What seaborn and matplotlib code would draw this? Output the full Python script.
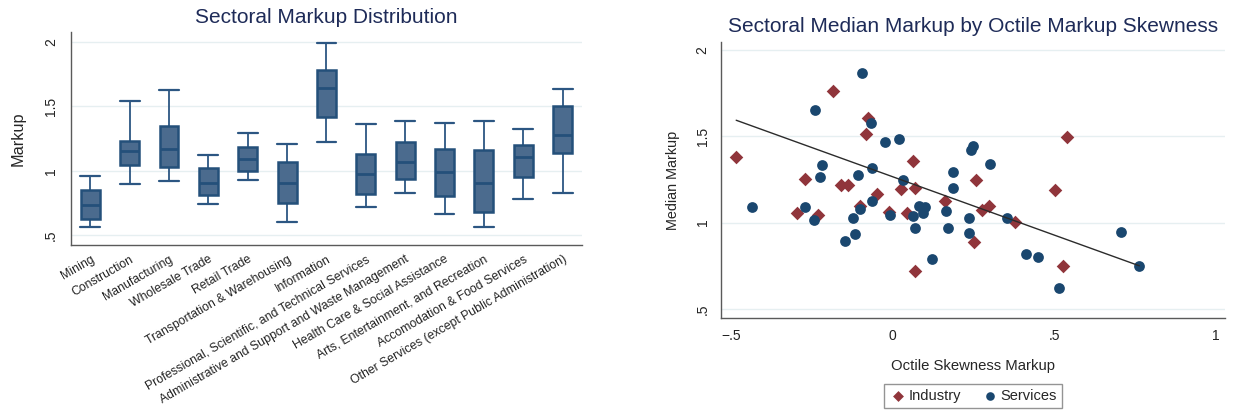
import numpy as np
import pandas as pd
import matplotlib
matplotlib.use("Agg")
import matplotlib.pyplot as plt
import seaborn as sns

# ---------------- data: left panel (five-number summaries) ----------------
sectors = [
    "Mining", "Construction", "Manufacturing", "Wholesale Trade", "Retail Trade",
    "Transportation & Warehousing", "Information",
    "Professional, Scientific, and Technical Services",
    "Administrative and Support and Waste Management",
    "Health Care & Social Assistance", "Arts, Entertainment, and Recreation",
    "Accomodation & Food Services", "Other Services (except Public Administration)",
]
whisker_low = [0.561, 0.897, 0.920, 0.742, 0.930, 0.605, 1.222, 0.719, 0.830, 0.665, 0.564, 0.783, 0.825]
quart_1     = [0.626, 1.044, 1.026, 0.814, 0.995, 0.752, 1.415, 0.819, 0.935, 0.804, 0.680, 0.951, 1.134]
medians     = [0.732, 1.152, 1.170, 0.907, 1.090, 0.907, 1.643, 0.974, 1.070, 0.987, 0.907, 1.108, 1.276]
quart_3     = [0.853, 1.232, 1.348, 1.021, 1.181, 1.070, 1.782, 1.132, 1.219, 1.170, 1.160, 1.201, 1.503]
whisker_high = [0.961, 1.542, 1.627, 1.124, 1.294, 1.209, 1.988, 1.359, 1.385, 1.372, 1.385, 1.325, 1.632]

y_ticks = [0.5, 1.0, 1.5, 2.0]
y_ticklabels = [".5", "1", "1.5", "2"]

# ---------------- data: right panel (scatter) ----------------
industry_skew = [-0.484, -0.184, -0.075, -0.083, -0.272, -0.161, -0.137, -0.049, -0.295, -0.230,
                 -0.101, -0.010, 0.062, 0.025, 0.069, 0.044, 0.069, 0.163,
                 0.540, 0.258, 0.502, 0.276, 0.300, 0.378, 0.251, 0.529]
industry_med = [1.378, 1.760, 1.607, 1.516, 1.254, 1.217, 1.217, 1.163, 1.055, 1.043,
                1.097, 1.064, 1.359, 1.194, 1.198, 1.055, 0.721, 1.126,
                1.497, 1.247, 1.190, 1.072, 1.097, 1.002, 0.888, 0.750]
services_skew = [-0.096, -0.239, -0.068, -0.022, 0.019, -0.217, -0.224, -0.065, -0.107, 0.031,
                 -0.436, -0.270, -0.244, -0.123, -0.101, -0.065, -0.009, -0.146, -0.115, 0.063,
                 0.083, 0.099, 0.094, 0.069, 0.121, 0.165, 0.171, 0.186, 0.186,
                 0.248, 0.242, 0.301, 0.238, 0.237, 0.355, 0.413, 0.450, 0.707, 0.764, 0.514]
services_med = [1.869, 1.655, 1.578, 1.469, 1.485, 1.331, 1.266, 1.314, 1.273, 1.244,
                1.091, 1.093, 1.017, 1.029, 1.081, 1.126, 1.043, 0.892, 0.934, 1.041,
                1.099, 1.093, 1.055, 0.967, 0.787, 1.068, 0.971, 1.291, 1.200,
                1.442, 1.423, 1.337, 1.025, 0.942, 1.029, 0.820, 0.799, 0.948, 0.750, 0.622]
# linear fit shown in the chart
fit_intercept = 1.266
fit_slope = -0.6755

x_ticks = [-0.5, 0.0, 0.5, 1.0]
x_ticklabels = ["\u2212.5", "0", ".5", "1"]

# ---------------- styling ----------------
sns.set_style("white")
plt.rcParams["font.family"] = ["Liberation Sans", "DejaVu Sans"]

NAVY = "#1a476f"
MAROON = "#90353b"
BOX_FILL = "#4b6b8e"
BOX_EDGE = "#24507a"
GRID = "#e6eff1"
SPINE = "#5a5a5a"
TITLE_C = "#1e2b58"

fig = plt.figure(figsize=(12.33, 4.11), dpi=100)
fig.patch.set_facecolor("white")

# ---------------- left panel ----------------
box_df = pd.DataFrame({
    "sector": np.repeat(sectors, 5),
    "markup": np.column_stack([whisker_low, quart_1, medians, quart_3, whisker_high]).ravel(),
})
ax1 = fig.add_axes([71 / 1233, 1 - 245 / 411, (582.3 - 71) / 1233, (245 - 31.7) / 411])
sns.boxplot(data=box_df, x="sector", y="markup", order=sectors, whis=(0, 100), width=0.48,
            color=BOX_FILL, saturation=1, linecolor=BOX_EDGE, linewidth=1.4,
            showfliers=False, ax=ax1)
BW = 0.48
for c in ax1.containers:
    for b in getattr(c, "boxes", []):
        b.set_facecolor(BOX_FILL)
        b.set_edgecolor(BOX_EDGE)
        b.set_linewidth(1.8)
        b.set_zorder(3)
    for m in getattr(c, "medians", []):
        m.set_color(BOX_EDGE)
        m.set_linewidth(2.0)
        m.set_zorder(4)
    for w in getattr(c, "whiskers", []):
        w.set_color("#2c5682")
        w.set_linewidth(1.3)
    for cap in getattr(c, "caps", []):
        xd = np.asarray(cap.get_xdata(), dtype=float)
        cx = xd.mean()
        cap.set_xdata([cx - BW / 2 * 1.05, cx + BW / 2 * 1.05])
        cap.set_color("#2c5682")
        cap.set_linewidth(1.6)

ax1.set_xlim(-0.49, 12.5)
ax1.set_ylim(0.425, 2.077)
ax1.set_yticks(y_ticks)
ax1.set_yticklabels(y_ticklabels, rotation=90, va="center", fontsize=10)
ax1.set_xticks(range(len(sectors)))
ax1.set_xticklabels(sectors, rotation=30, ha="right", rotation_mode="anchor", fontsize=8.8)
ax1.set_xlabel("")
ax1.set_ylabel("Markup", fontsize=11.7)
ax1.yaxis.set_label_coords((26 - 71) / 511.3, 0.5)
ax1.set_title("Sectoral Markup Distribution", fontsize=15, color=TITLE_C, pad=6)
ax1.grid(axis="y", color=GRID, linewidth=1.0)
ax1.set_axisbelow(True)
for s in ["top", "right"]:
    ax1.spines[s].set_visible(False)
for s in ["left", "bottom"]:
    ax1.spines[s].set_color(SPINE)
    ax1.spines[s].set_linewidth(1.0)
ax1.tick_params(axis="y", length=5, width=1, color=SPINE, pad=4.5, labelcolor="#222222")
ax1.tick_params(axis="x", length=4, width=1, color=SPINE, pad=2, labelcolor="#222222")

# ---------------- right panel ----------------
ind_df = pd.DataFrame({"skew": industry_skew, "med": industry_med})
srv_df = pd.DataFrame({"skew": services_skew, "med": services_med})
all_skew = np.array(industry_skew + services_skew)
fit_x = np.array([all_skew.min(), all_skew.max()])
fit_df = pd.DataFrame({"skew": fit_x, "med": fit_intercept + fit_slope * fit_x})

ax2 = fig.add_axes([721 / 1233, 1 - 318.3 / 411, (1225 - 721) / 1233, (318.3 - 42) / 411])
sns.scatterplot(data=ind_df, x="skew", y="med", marker="D", s=48, color=MAROON,
                linewidth=0, label="Industry", ax=ax2, zorder=3)
sns.scatterplot(data=srv_df, x="skew", y="med", marker="o", s=60, color=NAVY,
                linewidth=0, label="Services", ax=ax2, zorder=3)
sns.lineplot(data=fit_df, x="skew", y="med", color="#2b2b2b", linewidth=1.0,
             ax=ax2, zorder=4, legend=False)

ax2.set_xlim(-0.531, 1.029)
ax2.set_ylim(0.446, 2.046)
ax2.set_xticks(x_ticks)
ax2.set_xticklabels(x_ticklabels, fontsize=10)
ax2.set_yticks(y_ticks)
ax2.set_yticklabels(y_ticklabels, rotation=90, va="center", fontsize=10)
ax2.set_xlabel("Octile Skewness Markup", fontsize=10.7)
ax2.xaxis.set_label_coords(0.5, (318.3 - 359) / 276.3)
ax2.xaxis.label.set_va("top")
ax2.set_ylabel("Median Markup", fontsize=10.4)
ax2.yaxis.set_label_coords((680 - 721) / 504, 0.5)
ax2.set_title("Sectoral Median Markup by Octile Markup Skewness", fontsize=15,
              color=TITLE_C, pad=7.2)
ax2.grid(axis="y", color=GRID, linewidth=1.0)
ax2.grid(axis="x", visible=False)
ax2.set_axisbelow(True)
for s in ["top", "right"]:
    ax2.spines[s].set_visible(False)
for s in ["left", "bottom"]:
    ax2.spines[s].set_color(SPINE)
    ax2.spines[s].set_linewidth(1.0)
ax2.tick_params(axis="y", length=5, width=1, color=SPINE, pad=3.2, labelcolor="#222222")
ax2.tick_params(axis="x", length=4, width=1, color=SPINE, pad=3.6, labelcolor="#222222")

handles, labels = ax2.get_legend_handles_labels()
keep = [(h, l) for h, l in zip(handles, labels) if l in ("Industry", "Services")]
leg = ax2.legend([k[0] for k in keep], [k[1] for k in keep], loc="center",
                 bbox_to_anchor=(973 / 1233, 1 - 396 / 411),
                 bbox_transform=fig.transFigure, ncol=2, frameon=True, fancybox=False,
                 edgecolor="#7a7a7a", fontsize=10.5, handletextpad=0.1, columnspacing=1.4,
                 borderpad=0.35, markerscale=0.8, handlelength=1.2)
leg.get_frame().set_linewidth(1.0)

fig.savefig("out.png", dpi=100, facecolor="white")
